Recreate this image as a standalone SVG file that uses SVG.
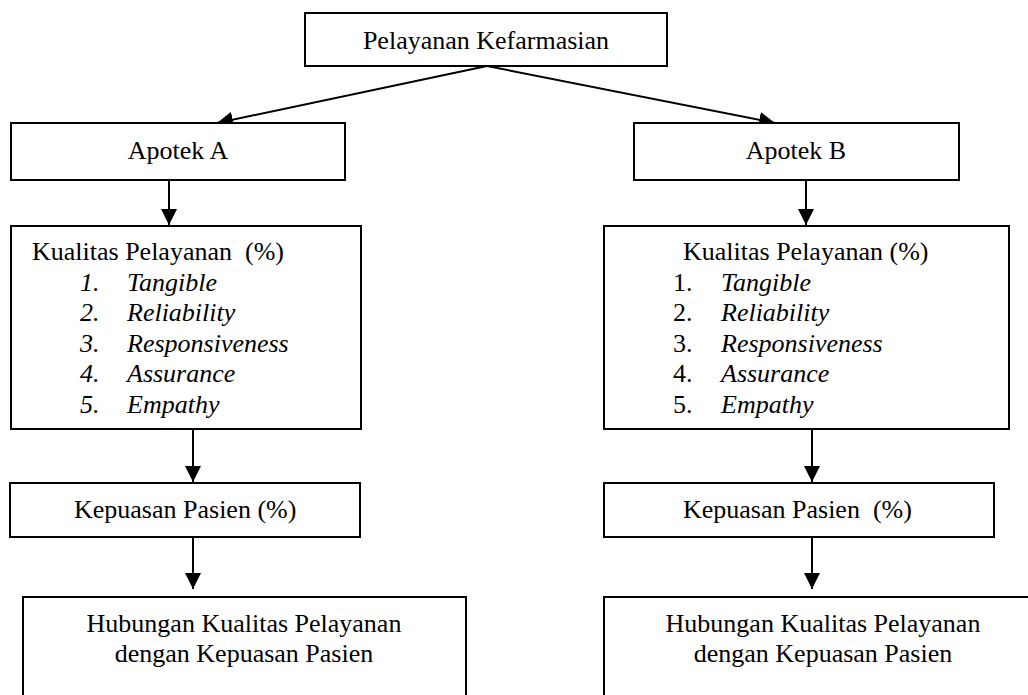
<svg xmlns="http://www.w3.org/2000/svg" width="1028" height="695" viewBox="0 0 1028 695">
<defs>
<marker id="ah" viewBox="0 0 10 10" refX="10" refY="5" markerWidth="8" markerHeight="8" markerUnits="strokeWidth" orient="auto">
<path d="M0,0 L10,5 L0,10 Z" fill="#000"/>
</marker>
<style>
.box{fill:#fff;stroke:#000;stroke-width:2}
.t{font-family:'Liberation Serif','Tinos','DejaVu Serif',serif;font-size:26px;fill:#000}
.c{text-anchor:middle}
.i{font-style:italic}
.con{stroke:#000;stroke-width:2;fill:none;marker-end:url(#ah)}
</style>
</defs>
<rect width="1028" height="695" fill="#fff"/>
<g id="connectors">
<line class="con" x1="487" y1="66" x2="217" y2="123"/>
<line class="con" x1="487" y1="66" x2="775" y2="123"/>
<line class="con" x1="169" y1="180" x2="169" y2="225"/>
<line class="con" x1="806" y1="180" x2="806" y2="225"/>
<line class="con" x1="193" y1="429" x2="193" y2="482"/>
<line class="con" x1="812" y1="429" x2="812" y2="482"/>
<line class="con" x1="193" y1="537" x2="193" y2="589"/>
<line class="con" x1="812" y1="537" x2="812" y2="589"/>
</g>
<g id="pelayanan">
<rect class="box" x="305" y="13" width="362" height="53"/>
<text class="t c" x="486" y="49" font-family="Liberation Serif, serif">Pelayanan Kefarmasian</text>
</g>
<g id="apotek-a">
<rect class="box" x="11" y="123" width="334" height="57"/>
<text class="t c" x="178" y="159">Apotek A</text>
</g>
<g id="apotek-b">
<rect class="box" x="634" y="123" width="325" height="57"/>
<text class="t c" x="796" y="159">Apotek B</text>
</g>
<g id="kualitas-a">
<rect class="box" x="11" y="226" width="350" height="203"/>
<text class="t" x="32" y="260" xml:space="preserve">Kualitas Pelayanan  (%)</text>
<text class="t i" x="80" y="291">1.</text><text class="t i" x="127" y="291">Tangible</text>
<text class="t i" x="80" y="321">2.</text><text class="t i" x="127" y="321">Reliability</text>
<text class="t i" x="80" y="352">3.</text><text class="t i" x="127" y="352">Responsiveness</text>
<text class="t i" x="80" y="382">4.</text><text class="t i" x="127" y="382">Assurance</text>
<text class="t i" x="80" y="413">5.</text><text class="t i" x="127" y="413">Empathy</text>
</g>
<g id="kualitas-b">
<rect class="box" x="604" y="226" width="405" height="203"/>
<text class="t" x="683" y="260">Kualitas Pelayanan (%)</text>
<text class="t" x="673" y="291">1.</text><text class="t i" x="721" y="291">Tangible</text>
<text class="t" x="673" y="321">2.</text><text class="t i" x="721" y="321">Reliability</text>
<text class="t" x="673" y="352">3.</text><text class="t i" x="721" y="352">Responsiveness</text>
<text class="t" x="673" y="382">4.</text><text class="t i" x="721" y="382">Assurance</text>
<text class="t" x="673" y="413">5.</text><text class="t i" x="721" y="413">Empathy</text>
</g>
<g id="kepuasan-a">
<rect class="box" x="10" y="483" width="350" height="54"/>
<text class="t" x="74" y="518">Kepuasan Pasien (%)</text>
</g>
<g id="kepuasan-b">
<rect class="box" x="604" y="483" width="390" height="54"/>
<text class="t" x="683" y="518" xml:space="preserve">Kepuasan Pasien  (%)</text>
</g>
<g id="hubungan-a">
<rect class="box" x="23" y="597" width="443" height="110"/>
<text class="t c" x="244" y="632">Hubungan Kualitas Pelayanan</text>
<text class="t c" x="244" y="662">dengan Kepuasan Pasien</text>
</g>
<g id="hubungan-b">
<rect class="box" x="604" y="597" width="450" height="110"/>
<text class="t c" x="823" y="632">Hubungan Kualitas Pelayanan</text>
<text class="t c" x="823" y="662">dengan Kepuasan Pasien</text>
</g>
</svg>
